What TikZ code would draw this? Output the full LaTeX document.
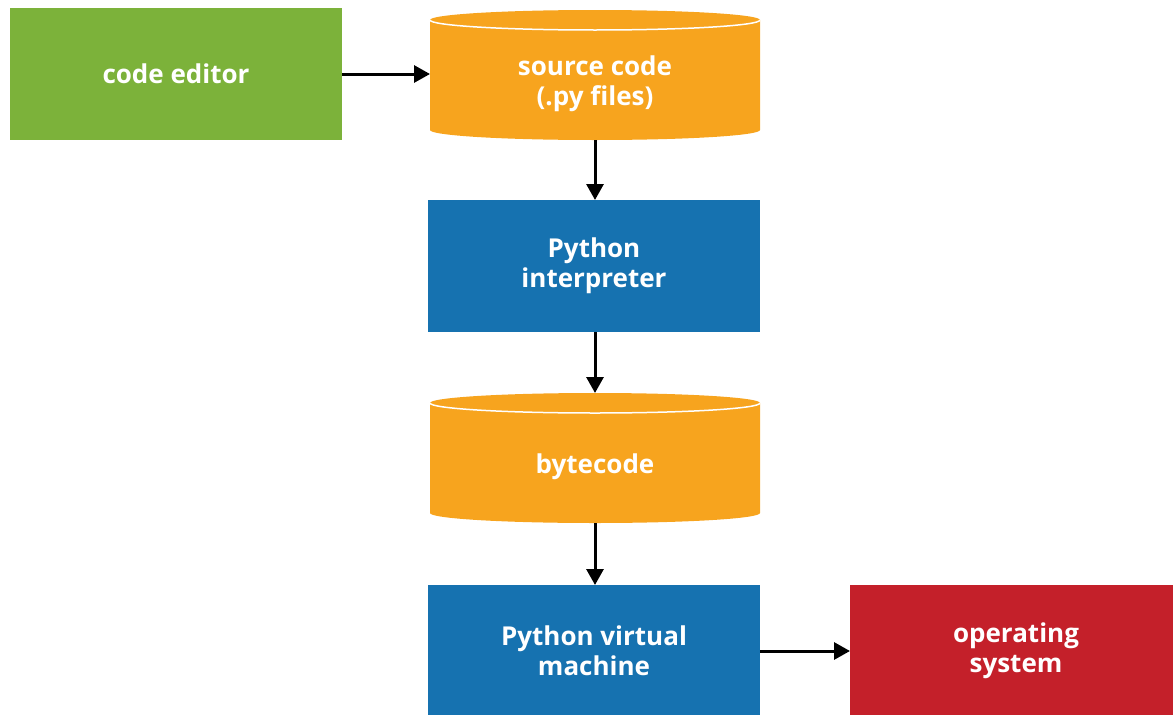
\documentclass[tikz,border=0pt]{standalone}
\usepackage{fontspec}
\setmainfont{Open Sans}
\usetikzlibrary{arrows.meta,calc}

\definecolor{editorgreen}{RGB}{124,178,58}
\definecolor{storeorange}{RGB}{247,164,30}
\definecolor{stageblue}{RGB}{22,114,176}
\definecolor{osred}{RGB}{196,32,42}

% pushes the label of a store below its lid
\newcommand{\lidgap}{\rule{0pt}{37pt}}

\begin{document}
\begin{tikzpicture}[x=1pt,y=-1pt,
    box/.style={minimum width=332pt,minimum height=132pt,inner sep=0pt,
      outer sep=0pt,align=center,text=white,
      font=\bfseries\fontsize{26}{30}\selectfont},
    store/.style={box,minimum width=330pt,minimum height=130pt,
      path picture={
        \path (path picture bounding box.north west) coordinate (nw)
              (path picture bounding box.south east) coordinate (se);
        \fill[storeorange] ($(nw)+(0,-10pt)$)
          arc[start angle=180,end angle=0,x radius=165pt,y radius=10pt]
          -- ($(se)+(0,10pt)$)
          arc[start angle=0,end angle=-180,x radius=165pt,y radius=10pt]
          -- cycle;
        \draw[white,line width=1.5pt] ($(nw)+(0,-10pt)$)
          arc[start angle=180,end angle=360,x radius=165pt,y radius=10pt];
      }},
    flow/.style={line width=3pt,-{Triangle[length=16pt,width=17pt]}}
  ]
  \clip (0,0) rectangle (1173,715);

  \node[box,fill=editorgreen] (editor) at (176,74) {code editor};
  \node[store] (source) at (595,75) {\lidgap source code\\(.py files)};
  \node[box,fill=stageblue] (interp) at (594,266) {Python\\interpreter};
  \node[store] (bytecode) at (595,458) {\lidgap bytecode};
  \node[box,fill=stageblue] (pvm) at (594,651) {Python virtual\\machine};
  \node[box,fill=osred] (os) at (1016,651) {operating\\system};

  \draw[flow] (editor.east) -- (editor.east -| source.west);
  \draw[flow] (source.south) -- (source.south |- interp.north);
  \draw[flow] (interp.south -| bytecode.north) -- (bytecode.north);
  \draw[flow] (bytecode.south) -- (bytecode.south |- pvm.north);
  \draw[flow] (pvm.east) -- (os.west);
\end{tikzpicture}
\end{document}
